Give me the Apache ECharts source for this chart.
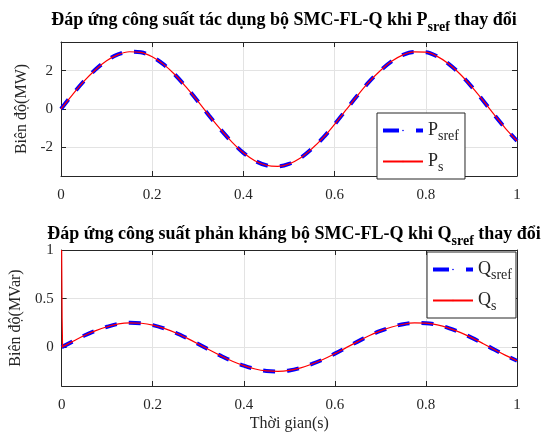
<!DOCTYPE html>
<html>
<head>
<meta charset="utf-8">
<script src="https://cdn.jsdelivr.net/npm/echarts@6/dist/echarts.min.js"></script>
<style>
  html, body { margin: 0; padding: 0; background: #fff; }
  #chart { width: 542px; height: 434px; }
</style>
</head>
<body>
<div id="chart"></div>
<script>
// time axis (s)
const time = [0, 0.025, 0.05, 0.075, 0.1, 0.125, 0.15, 0.175, 0.2, 0.225, 0.25, 0.275, 0.3, 0.325, 0.35, 0.375,
  0.4, 0.425, 0.45, 0.475, 0.5, 0.525, 0.55, 0.575, 0.6, 0.625, 0.65, 0.675, 0.7, 0.725, 0.75, 0.775,
  0.8, 0.825, 0.85, 0.875, 0.9, 0.925, 0.95, 0.975, 1]

// active power (MW)
const psref = [0, 0.75, 1.45, 2.05, 2.53, 2.85, 2.99, 2.96, 2.73, 2.33, 1.79, 1.13, 0.41, -0.35, -1.07, -1.73,
  -2.29, -2.7, -2.94, -3.0, -2.87, -2.56, -2.08, -1.5, -0.8, -0.05, 0.7, 1.4, 2.0, 2.49, 2.83, 2.98,
  2.97, 2.75, 2.36, 1.83, 1.18, 0.46, -0.3, -1.02, -1.66]
const ps = [0, 0.74, 1.44, 2.04, 2.52, 2.84, 2.99, 2.96, 2.73, 2.33, 1.79, 1.13, 0.41, -0.35, -1.07, -1.73,
  -2.29, -2.7, -2.94, -3.0, -2.87, -2.56, -2.08, -1.5, -0.8, -0.05, 0.7, 1.4, 2.0, 2.49, 2.83, 2.98,
  2.97, 2.75, 2.36, 1.83, 1.18, 0.46, -0.3, -1.02, -1.66]

// reactive power (MVar)
const qsref = [0, 0.06, 0.12, 0.17, 0.21, 0.24, 0.25, 0.246, 0.227, 0.193, 0.148, 0.093, 0.033, -0.03, -0.09, -0.145,
  -0.19, -0.225, -0.245, -0.25, -0.24, -0.213, -0.173, -0.125, -0.067, -0.005, 0.057, 0.117, 0.167, 0.207, 0.236, 0.249,
  0.247, 0.229, 0.196, 0.152, 0.098, 0.038, -0.025, -0.085, -0.14]
const qs = [0, 0.06, 0.12, 0.17, 0.21, 0.24, 0.25, 0.246, 0.227, 0.193, 0.148, 0.093, 0.033, -0.03, -0.09, -0.145,
  -0.19, -0.225, -0.245, -0.25, -0.24, -0.213, -0.173, -0.125, -0.067, -0.005, 0.057, 0.117, 0.167, 0.207, 0.236, 0.249,
  0.247, 0.229, 0.196, 0.152, 0.098, 0.038, -0.025, -0.085, -0.14]
// start-up transient of Qs
const qsStartTime = [0, 0.001, 0.002]
const qsStart = [1, 0.3, 0]

const xTicks = [0, 0.2, 0.4, 0.6, 0.8, 1]
const pTicks = [-2, 0, 2]
const qTicks = [0, 0.5, 1]

const FONT = '"Liberation Serif", "Times New Roman", serif'
const AXIS = '#262626'
const GRIDLINE = '#e3e3e3'

const pairs = (xs, ys) => xs.map((x, i) => [x, ys[i]])

function bottomAxis(gridIndex, showName) {
  return {
    type: 'value', gridIndex, min: 0, max: 1, interval: 0.2,
    axisLine: { show: true, onZero: false, lineStyle: { color: AXIS } },
    axisTick: { inside: true, length: 5, lineStyle: { color: AXIS } },
    axisLabel: {
      color: '#262626', fontFamily: FONT, fontSize: 15, margin: 12,
      formatter: v => (xTicks.indexOf(+v.toFixed(1)) >= 0 ? String(+v.toFixed(1)) : '')
    },
    splitLine: { show: true, lineStyle: { color: GRIDLINE } },
    name: showName ? 'Thời gian(s)' : '',
    nameLocation: 'middle', nameGap: 30,
    nameTextStyle: { color: '#262626', fontFamily: FONT, fontSize: 16 }
  }
}
function topAxis(gridIndex) {
  return {
    type: 'value', gridIndex, min: 0, max: 1, interval: 0.2, position: 'top',
    axisLine: { show: true, onZero: false, lineStyle: { color: AXIS } },
    axisTick: { inside: true, length: 5, lineStyle: { color: AXIS } },
    axisLabel: { show: false }, splitLine: { show: false }
  }
}
function leftAxis(gridIndex, min, max, ticks, name, gap) {
  return {
    type: 'value', gridIndex, min, max,
    axisLine: { show: true, onZero: false, lineStyle: { color: AXIS } },
    axisTick: { inside: true, length: 5, customValues: ticks, lineStyle: { color: AXIS } },
    axisLabel: { customValues: ticks, color: '#262626', fontFamily: FONT, fontSize: 15, margin: 8 },
    splitLine: { show: true, lineStyle: { color: GRIDLINE } },
    name, nameLocation: 'middle', nameGap: gap,
    nameTextStyle: { color: '#262626', fontFamily: FONT, fontSize: 16 }
  }
}
function rightAxis(gridIndex, min, max, ticks) {
  return {
    type: 'value', gridIndex, min, max, position: 'right',
    axisLine: { show: true, onZero: false, lineStyle: { color: AXIS } },
    axisTick: { inside: true, length: 5, customValues: ticks, lineStyle: { color: AXIS } },
    axisLabel: { show: false }, splitLine: { show: false }
  }
}

const legendRich = {
  m: { fontFamily: FONT, fontSize: 18, color: '#262626', lineHeight: 22 },
  s: { fontFamily: FONT, fontSize: 14, color: '#262626', padding: [11, 0, 0, 0], lineHeight: 14 }
}
const legendFormatter = name => '{m|' + name.charAt(0) + '}{s|' + name.slice(1) + '}'
const refLegendLine = { type: [16, 17], width: 4, color: '#0000ff' }

const titleRich = {
  b: { fontFamily: FONT, fontSize: 18, fontWeight: 'bold', color: '#000' },
  s: { fontFamily: FONT, fontSize: 14, fontWeight: 'bold', color: '#000', padding: [14, 0, 0, 0] }
}

const chart = echarts.init(document.getElementById('chart'), null, { renderer: 'canvas' })

chart.setOption({
  backgroundColor: '#fff',
  animation: false,
  title: [
    {
      text: '{b|Đáp ứng công suất tác dụng bộ SMC-FL-Q khi P}{s|sref}{b| thay đổi}',
      left: 279, top: 1, textAlign: 'center',
      textStyle: { rich: titleRich }
    },
    {
      text: '{b|Đáp ứng công suất phản kháng bộ SMC-FL-Q khi Q}{s|sref}{b| thay đổi}',
      left: 289, top: 215, textAlign: 'center',
      textStyle: { rich: titleRich }
    }
  ],
  grid: [
    { left: 61, top: 42, width: 456, height: 134, containLabel: false },
    { left: 61, top: 250, width: 456, height: 136, containLabel: false }
  ],
  xAxis: [bottomAxis(0, false), topAxis(0), bottomAxis(1, true), topAxis(1)],
  yAxis: [
    leftAxis(0, -3.5, 3.5, pTicks, 'Biên độ(MW)', 19),
    rightAxis(0, -3.5, 3.5, pTicks),
    leftAxis(1, -0.4, 1, qTicks, 'Biên độ(MVar)', 30),
    rightAxis(1, -0.4, 1, qTicks)
  ],
  legend: [
    {
      data: [{ name: 'Psref', lineStyle: refLegendLine }, 'Ps'], left: 377, top: 113, orient: 'vertical',
      itemWidth: 40, itemHeight: 2, itemGap: 6,
      padding: [5, 6, 5, 4],
      itemStyle: { borderWidth: 0 },
      borderColor: AXIS, borderWidth: 1, backgroundColor: '#fff',
      formatter: legendFormatter, textStyle: { rich: legendRich }
    },
    {
      data: [{ name: 'Qsref', lineStyle: refLegendLine }, 'Qs'], left: 427, top: 252, orient: 'vertical',
      itemWidth: 40, itemHeight: 2, itemGap: 6,
      padding: [5, 4, 5, 4],
      itemStyle: { borderWidth: 0 },
      borderColor: AXIS, borderWidth: 1, backgroundColor: '#fff',
      formatter: legendFormatter, textStyle: { rich: legendRich }
    }
  ],
  series: [
    {
      name: 'Psref', type: 'line', xAxisIndex: 0, yAxisIndex: 0,
      data: pairs(time, psref), showSymbol: false, symbol: 'none', smooth: 0.35,
      lineStyle: { color: '#0000ff', width: 4, type: [12, 12] }, itemStyle: { color: '#0000ff' }
    },
    {
      name: 'Ps', type: 'line', xAxisIndex: 0, yAxisIndex: 0,
      data: pairs(time, ps), showSymbol: false, symbol: 'none', smooth: 0.35,
      lineStyle: { color: '#ff0000', width: 1.2 }, itemStyle: { color: '#ff0000' }
    },
    {
      name: 'Qsref', type: 'line', xAxisIndex: 2, yAxisIndex: 2,
      data: pairs(time, qsref), showSymbol: false, symbol: 'none', smooth: 0.35,
      lineStyle: { color: '#0000ff', width: 4, type: [12, 12] }, itemStyle: { color: '#0000ff' }
    },
    {
      name: 'Qs', type: 'line', xAxisIndex: 2, yAxisIndex: 2,
      data: pairs(time, qs), showSymbol: false, symbol: 'none', smooth: 0.35,
      lineStyle: { color: '#ff0000', width: 1.2 }, itemStyle: { color: '#ff0000' }
    },
    {
      name: 'Qs', type: 'line', xAxisIndex: 2, yAxisIndex: 2,
      data: pairs(qsStartTime, qsStart), showSymbol: false, symbol: 'none',
      lineStyle: { color: '#ff0000', width: 1.2 }, itemStyle: { color: '#ff0000' }
    }
  ]
})

window.addEventListener('resize', () => chart.resize())
</script>
</body>
</html>
